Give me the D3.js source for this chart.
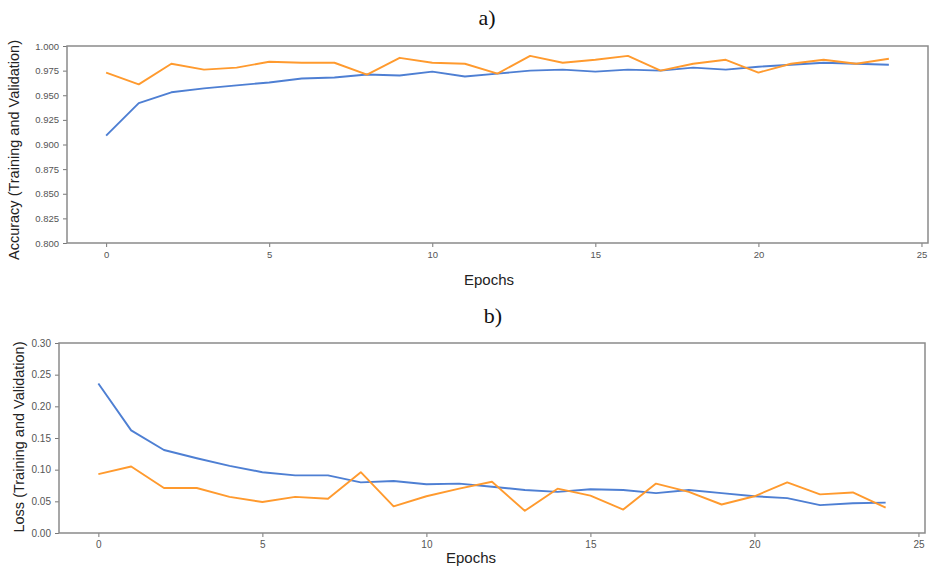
<!DOCTYPE html>
<html>
<head>
<meta charset="utf-8">
<script src="https://cdn.jsdelivr.net/npm/d3@7"></script>
<style>
  body { margin: 0; background: #fff; }
  svg { display: block; font-family: "Liberation Sans", Arial, sans-serif; }
  .frame { fill: none; stroke: #8a8a8a; stroke-width: 1.5; }
  .axis path { display: none; }
  .axis line { stroke: #777; }
  .axis text { fill: #555; }
</style>
</head>
<body>
<svg id="chart" width="931" height="568"></svg>
<script>
const epochs = d3.range(0, 25)

const accTrain = [0.909, 0.942, 0.953, 0.957, 0.960, 0.963, 0.967, 0.968, 0.971, 0.970,
    0.974, 0.969, 0.972, 0.975, 0.976, 0.974, 0.976, 0.975, 0.978, 0.976,
    0.979, 0.981, 0.983, 0.982, 0.981]
const accVal = [0.973, 0.961, 0.982, 0.976, 0.978, 0.984, 0.983, 0.983, 0.971, 0.988,
    0.983, 0.982, 0.972, 0.990, 0.983, 0.986, 0.990, 0.975, 0.982, 0.986,
    0.973, 0.982, 0.986, 0.982, 0.987]

const lossTrain = [0.236, 0.162, 0.131, 0.118, 0.106, 0.096, 0.091, 0.091, 0.080, 0.082,
    0.077, 0.078, 0.073, 0.068, 0.065, 0.069, 0.068, 0.063, 0.068, 0.063,
    0.058, 0.055, 0.044, 0.047, 0.048]
const lossVal = [0.093, 0.105, 0.071, 0.071, 0.057, 0.049, 0.057, 0.054, 0.096, 0.042,
    0.058, 0.070, 0.081, 0.035, 0.070, 0.059, 0.037, 0.078, 0.065, 0.045,
    0.058, 0.080, 0.061, 0.064, 0.040]

const xTicks = [0, 5, 10, 15, 20, 25]
const accTicks = d3.range(0.8, 1.0001, 0.025)
const lossTicks = d3.range(0, 0.3001, 0.05)

const blue = '#4e7fd3'
const orange = '#ff9a2e'

const svg = d3.select('#chart')

function panel(box, yDomain, yTicks, yFormat, series, yLabel, tickSize, labelPos) {
    const x = d3.scaleLinear().domain([-1.2, 25.2]).range([box.left, box.right])
    const y = d3.scaleLinear().domain(yDomain).range([box.bottom, box.top])
    const g = svg.append('g')

    g.append('g')
        .attr('class', 'axis')
        .attr('transform', 'translate(0,' + box.bottom + ')')
        .call(d3.axisBottom(x).tickValues(xTicks).tickSize(4).tickPadding(4).tickFormat(d3.format('d')))
        .selectAll('text').style('font-size', tickSize + 'px')

    g.append('g')
        .attr('class', 'axis')
        .attr('transform', 'translate(' + box.left + ',0)')
        .call(d3.axisLeft(y).tickValues(yTicks).tickSize(4).tickPadding(4).tickFormat(d3.format(yFormat)))
        .selectAll('text').style('font-size', tickSize + 'px')

    const line = d3.line()
        .x((d, i) => x(epochs[i]))
        .y(d => y(d))

    series.forEach(s => {
        g.append('path')
            .datum(s.values)
            .attr('fill', 'none')
            .attr('stroke', s.color)
            .attr('stroke-width', 1.9)
            .attr('stroke-linejoin', 'round')
            .attr('d', line)
    })

    g.append('rect')
        .attr('class', 'frame')
        .attr('x', box.left)
        .attr('y', box.top)
        .attr('width', box.right - box.left)
        .attr('height', box.bottom - box.top)

    g.append('text')
        .attr('transform', 'translate(' + labelPos[0] + ',' + labelPos[1] + ') rotate(-90)')
        .attr('text-anchor', 'middle')
        .attr('dy', '0.35em')
        .style('font-size', '14.5px')
        .style('fill', '#222')
        .text(yLabel)
}

// a) accuracy
panel({left: 67, right: 928, top: 46, bottom: 243}, [0.8, 1.0], accTicks, '.3f',
    [{values: accTrain, color: blue}, {values: accVal, color: orange}],
    'Accuracy (Training and Validation)', 9.5, [14, 150])

// b) loss
panel({left: 59, right: 925, top: 343, bottom: 533}, [0, 0.3], lossTicks, '.2f',
    [{values: lossTrain, color: blue}, {values: lossVal, color: orange}],
    'Loss (Training and Validation)', 10, [19, 437])

// titles and x labels
svg.append('text').attr('x', 487).attr('y', 25).attr('text-anchor', 'middle')
    .style('font-family', '"Liberation Serif", "Times New Roman", serif').style('font-size', '22px').style('fill', '#111')
    .text('a)')
svg.append('text').attr('x', 493).attr('y', 323).attr('text-anchor', 'middle')
    .style('font-family', '"Liberation Serif", "Times New Roman", serif').style('font-size', '22px').style('fill', '#111')
    .text('b)')
svg.append('text').attr('x', 489).attr('y', 285).attr('text-anchor', 'middle')
    .style('font-size', '15px').style('fill', '#222').text('Epochs')
svg.append('text').attr('x', 471).attr('y', 563).attr('text-anchor', 'middle')
    .style('font-size', '15px').style('fill', '#222').text('Epochs')
</script>
</body>
</html>
